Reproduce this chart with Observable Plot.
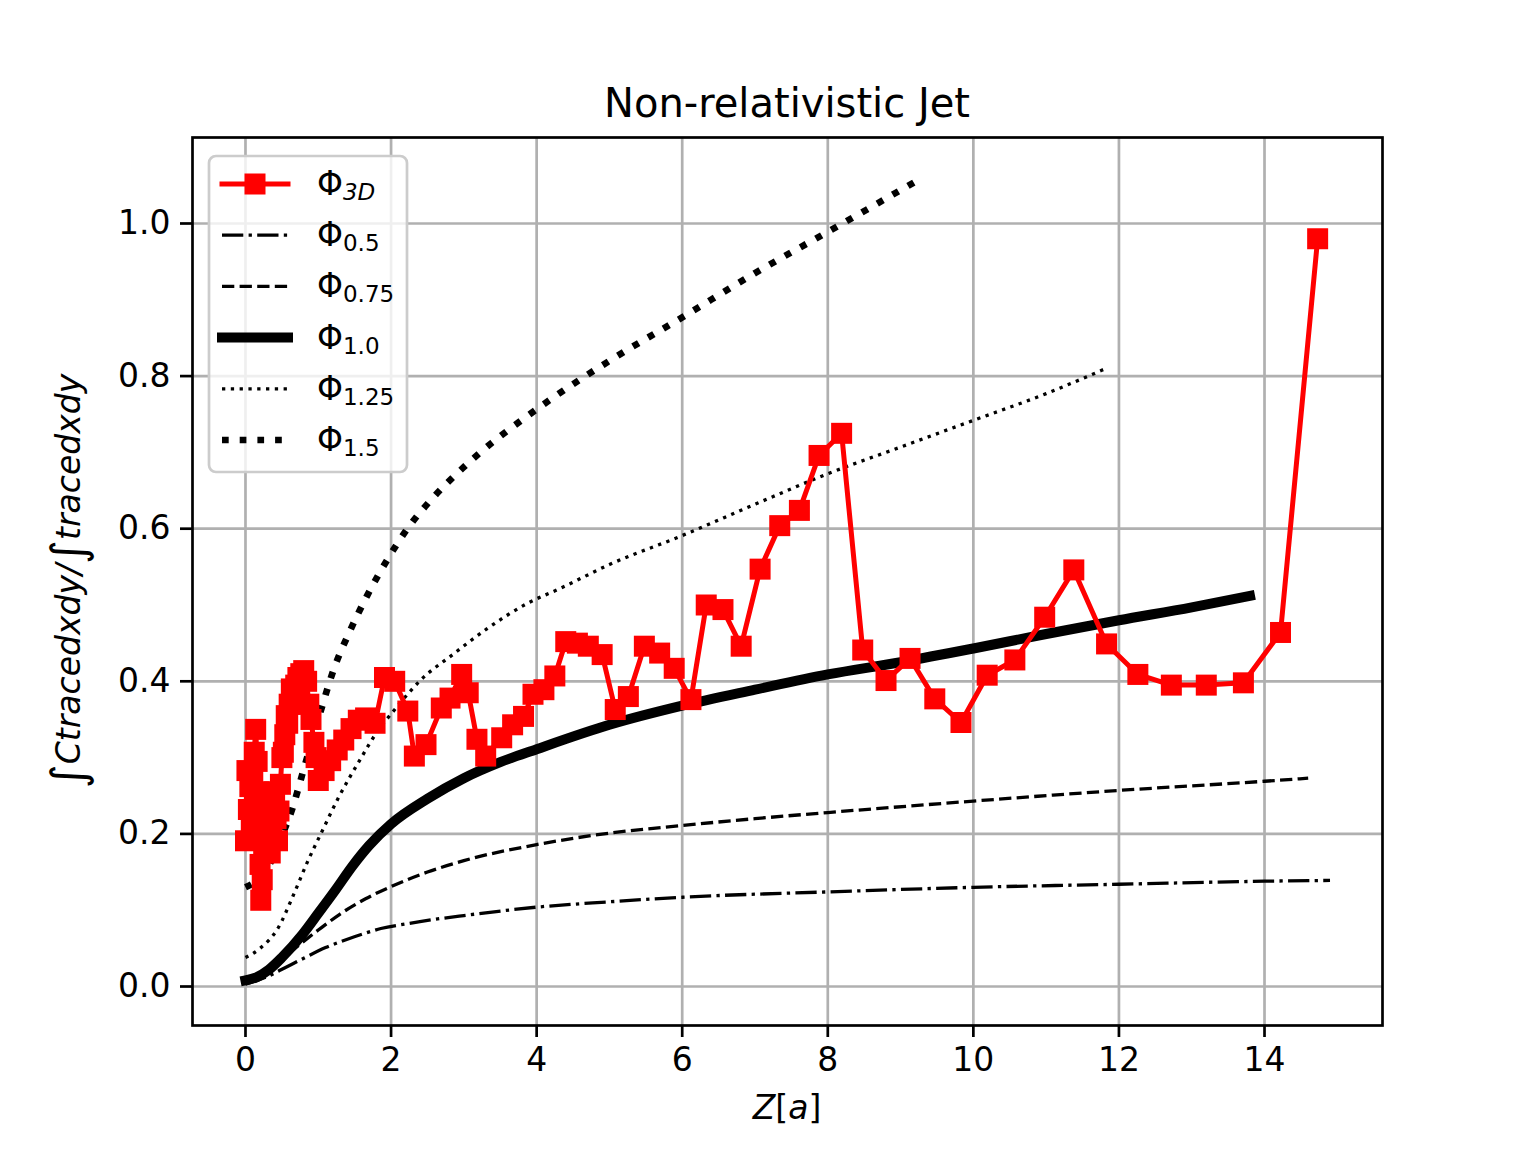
<!DOCTYPE html>
<html>
<head>
<meta charset="utf-8">
<script src="https://cdn.jsdelivr.net/npm/d3@7"></script>
<script src="https://cdn.jsdelivr.net/npm/@observablehq/plot@0.6"></script>
<style>
  body { margin: 0; background: #fff; }
  #chart { width: 1536px; height: 1152px; }
</style>
</head>
<body>
<div id="chart"></div>
<script>
// ---------- data ----------
const xTicks = [0, 2, 4, 6, 8, 10, 12, 14];
const yTicks = [0.0, 0.2, 0.4, 0.6, 0.8, 1.0];

// Phi_3D (simulation)
const z3D = [0.00, 0.02, 0.04, 0.06, 0.08, 0.10, 0.12, 0.14, 0.16, 0.18, 0.19, 0.20, 0.21, 0.23, 0.25, 0.26, 0.28, 0.30, 0.32, 0.34, 0.36, 0.38, 0.40, 0.42, 0.44, 0.46, 0.48, 0.50, 0.52, 0.54, 0.56, 0.58, 0.60, 0.63, 0.66, 0.69, 0.72, 0.76, 0.80, 0.84, 0.87, 0.90, 0.94, 0.97, 1.00,
  1.08, 1.17, 1.26, 1.35, 1.45, 1.55, 1.65, 1.78, 1.91, 2.05, 2.23, 2.32, 2.48, 2.69, 2.81, 2.97, 3.06, 3.18, 3.30, 3.52, 3.67, 3.82, 3.95, 4.10, 4.25, 4.40, 4.56, 4.71, 4.90, 5.08, 5.26, 5.48, 5.69, 5.89, 6.12, 6.33, 6.56, 6.81, 7.07, 7.34, 7.61, 7.88, 8.19, 8.48, 8.80, 9.13, 9.47, 9.83, 10.19, 10.57, 10.98, 11.38, 11.83, 12.26, 12.72, 13.20, 13.71, 14.22, 14.73];
const phi3D = [0.191, 0.283, 0.232, 0.262, 0.212, 0.275, 0.307, 0.337, 0.295, 0.255, 0.200, 0.160, 0.113, 0.140, 0.175, 0.215, 0.255, 0.230, 0.195, 0.175, 0.200, 0.228, 0.255, 0.220, 0.191, 0.230, 0.265, 0.300, 0.307, 0.330, 0.355, 0.345, 0.370, 0.390, 0.370, 0.395, 0.405, 0.410, 0.414, 0.400, 0.370, 0.350, 0.320, 0.300, 0.270,
  0.283, 0.296, 0.310, 0.323, 0.338, 0.349, 0.352, 0.345, 0.405, 0.400, 0.361, 0.302, 0.317, 0.365, 0.378, 0.409, 0.385, 0.324, 0.302, 0.326, 0.343, 0.354, 0.383, 0.389, 0.407, 0.452, 0.450, 0.446, 0.435, 0.363, 0.380, 0.446, 0.437, 0.417, 0.376, 0.500, 0.494, 0.446, 0.547, 0.604, 0.624, 0.696, 0.725, 0.441, 0.401, 0.430, 0.377, 0.346, 0.408, 0.428, 0.484, 0.546, 0.449, 0.409, 0.395, 0.395, 0.398, 0.464, 0.980];

// Phi_0.5 (dash-dot)
const z05 = [0, 0.3, 0.55, 0.8, 1.1, 1.4, 1.65, 1.86, 2.2, 2.6, 3, 4, 5, 6, 8, 10, 12, 14, 14.9];
const phi05 = [0.003, 0.013, 0.025, 0.037, 0.051, 0.062, 0.070, 0.076, 0.082, 0.088, 0.093, 0.104, 0.111, 0.117, 0.124, 0.130, 0.134, 0.138, 0.139];

// Phi_0.75 (dashed)
const z075 = [0, 0.3, 0.6, 1.0, 1.3, 1.65, 2.0, 2.5, 3, 4, 5, 6, 7, 8, 10, 12, 14, 14.6];
const phi075 = [0.005, 0.020, 0.044, 0.074, 0.095, 0.115, 0.131, 0.150, 0.165, 0.186, 0.201, 0.211, 0.220, 0.228, 0.243, 0.257, 0.269, 0.273];

// Phi_1.0 (thick solid)
const z10 = [0, 0.15, 0.32, 0.5, 0.78, 1.0, 1.24, 1.47, 1.7, 2.0, 2.5, 3, 3.5, 4, 5, 6, 7, 8, 9, 10, 11, 12, 13, 13.8];
const phi10 = [0.008, 0.012, 0.022, 0.038, 0.068, 0.096, 0.127, 0.158, 0.185, 0.213, 0.246, 0.273, 0.294, 0.311, 0.343, 0.368, 0.389, 0.409, 0.425, 0.443, 0.462, 0.480, 0.497, 0.512];

// Phi_1.25 (fine dotted)
const z125 = [0, 0.2, 0.45, 0.65, 0.85, 1.06, 1.28, 1.56, 1.81, 2.06, 2.4, 2.86, 3.32, 3.87, 4.33, 5, 6, 7, 8, 9, 10, 11, 11.82];
const phi125 = [0.038, 0.050, 0.077, 0.118, 0.163, 0.205, 0.248, 0.295, 0.334, 0.364, 0.401, 0.436, 0.469, 0.502, 0.522, 0.553, 0.591, 0.632, 0.672, 0.707, 0.742, 0.777, 0.810];

// Phi_1.5 (thick dotted)
const z15 = [0, 0.3, 0.52, 0.65, 0.78, 1.03, 1.21, 1.44, 1.67, 1.94, 2.24, 2.58, 2.98, 3.39, 3.82, 4.23, 5, 6, 7, 8, 9.26];
const phi15 = [0.130, 0.155, 0.202, 0.235, 0.278, 0.360, 0.415, 0.467, 0.512, 0.558, 0.602, 0.641, 0.679, 0.713, 0.744, 0.772, 0.820, 0.877, 0.935, 0.989, 1.058];

const toRows = (xs, ys) => xs.map((x, i) => ({x, y: ys[i]}));
const d3D = toRows(z3D, phi3D);
const d05 = toRows(z05, phi05);
const d075 = toRows(z075, phi075);
const d10 = toRows(z10, phi10);
const d125 = toRows(z125, phi125);
const d15 = toRows(z15, phi15);

const FONT = "DejaVu Sans";
const gridStyle = {stroke: "#b0b0b0", strokeOpacity: 1, strokeWidth: 2.7};

const plot = Plot.plot({
  width: 1536,
  height: 1152,
  marginLeft: 192,
  marginRight: 154,
  marginTop: 137,
  marginBottom: 127,
  style: {fontFamily: FONT, fontSize: "33px", background: "white", color: "black"},
  x: {domain: [-0.728, 15.621]},
  y: {domain: [-0.0511, 1.1127]},
  marks: [
    Plot.gridX(xTicks, gridStyle),
    Plot.gridY(yTicks, gridStyle),
    Plot.line(d05, {x: "x", y: "y", stroke: "black", strokeWidth: 3.3, strokeDasharray: "21.3,5.3,3.3,5.3", strokeLinecap: "butt", curve: "monotone-x"}),
    Plot.line(d075, {x: "x", y: "y", stroke: "black", strokeWidth: 3.3, strokeDasharray: "12.3,5.3", strokeLinecap: "butt", curve: "monotone-x"}),
    Plot.line(d10, {x: "x", y: "y", stroke: "black", strokeWidth: 10, strokeLinecap: "square", curve: "monotone-x"}),
    Plot.line(d125, {x: "x", y: "y", stroke: "black", strokeWidth: 3.3, strokeDasharray: "3.3,5.5", strokeLinecap: "butt", curve: "monotone-x"}),
    Plot.line(d15, {x: "x", y: "y", stroke: "black", strokeWidth: 6.7, strokeDasharray: "6.7,11", strokeLinecap: "butt", curve: "monotone-x"}),
    Plot.line(d3D, {x: "x", y: "y", stroke: "red", strokeWidth: 5, strokeLinejoin: "round", strokeLinecap: "square"}),
    Plot.dot(d3D, {x: "x", y: "y", symbol: "square", r: 11.85, fill: "red", stroke: "none"}),
    Plot.frame({stroke: "black", strokeWidth: 2.7}),
    Plot.axisX(xTicks, {tickSize: 12, tickPadding: 10, strokeWidth: 2.7, fontSize: 33, label: null, tickFormat: d => String(d)}),
    Plot.axisY(yTicks, {tickSize: 12, tickPadding: 10, strokeWidth: 2.7, fontSize: 33, label: null, tickFormat: d => d.toFixed(1)})
  ]
});

document.getElementById("chart").appendChild(plot);

// ---------- decorations (title, axis labels, legend) ----------
const svg = d3.select(plot);

svg.append("text")
  .attr("x", 787).attr("y", 117)
  .attr("text-anchor", "middle")
  .attr("font-family", FONT).attr("font-size", 40).attr("fill", "black")
  .text("Non-relativistic Jet");

const xl = svg.append("text")
  .attr("x", 787).attr("y", 1119)
  .attr("text-anchor", "middle")
  .attr("font-family", FONT).attr("font-size", 33).attr("fill", "black");
xl.append("tspan").attr("font-style", "italic").text("Z");
xl.append("tspan").text("[");
xl.append("tspan").attr("font-style", "italic").text("a");
xl.append("tspan").text("]");

const yl = svg.append("text")
  .attr("transform", "translate(80,581) rotate(-90)")
  .attr("text-anchor", "middle")
  .attr("font-family", FONT).attr("font-size", 33).attr("fill", "black");
yl.append("tspan").attr("font-size", 46).attr("dy", 4).text("∫");
yl.append("tspan").attr("font-style", "italic").attr("dy", -4).text("Ctracedxdy");
yl.append("tspan").attr("font-style", "italic").text("/");
yl.append("tspan").attr("font-size", 46).attr("dy", 4).text("∫");
yl.append("tspan").attr("font-style", "italic").attr("dy", -4).text("tracedxdy");

// legend
const lg = svg.append("g").attr("text-anchor", "start");
lg.append("rect")
  .attr("x", 209).attr("y", 156).attr("width", 198).attr("height", 316)
  .attr("rx", 7).attr("ry", 7)
  .attr("fill", "white").attr("fill-opacity", 0.8)
  .attr("stroke", "#cccccc").attr("stroke-width", 2.7);

const legendItems = [
  {sub: "3D", italic: true, stroke: "red", width: 5, dash: null, cap: "square", marker: true},
  {sub: "0.5", stroke: "black", width: 3.3, dash: "21.3,5.3,3.3,5.3", cap: "butt"},
  {sub: "0.75", stroke: "black", width: 3.3, dash: "12.3,5.3", cap: "butt"},
  {sub: "1.0", stroke: "black", width: 10, dash: null, cap: "square"},
  {sub: "1.25", stroke: "black", width: 3.3, dash: "3.3,5.5", cap: "butt"},
  {sub: "1.5", stroke: "black", width: 6.7, dash: "6.7,11", cap: "butt"}
];
const rowY0 = 184, rowStep = 51.2;
legendItems.forEach((it, i) => {
  const cy = rowY0 + i * rowStep;
  const ln = lg.append("line")
    .attr("x1", 222).attr("x2", 288).attr("y1", cy).attr("y2", cy)
    .attr("stroke", it.stroke).attr("stroke-width", it.width)
    .attr("stroke-linecap", it.cap);
  if (it.dash) ln.attr("stroke-dasharray", it.dash);
  if (it.marker) {
    lg.append("rect").attr("x", 255 - 10.5).attr("y", cy - 10.5)
      .attr("width", 21).attr("height", 21).attr("fill", "red");
  }
  const t = lg.append("text")
    .attr("x", 317).attr("y", cy + 11)
    .attr("text-anchor", "start")
    .attr("font-family", FONT).attr("font-size", 33).attr("fill", "black");
  t.append("tspan").text("Φ");
  const s = t.append("tspan").attr("font-size", 23).attr("dy", 5).text(it.sub);
  if (it.italic) s.attr("font-style", "italic");
});
</script>
</body>
</html>
